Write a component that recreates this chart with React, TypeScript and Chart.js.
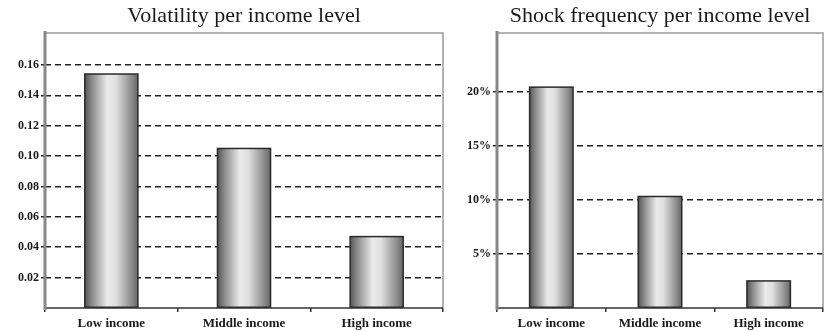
import React, { useEffect, useRef } from "react";
import { Chart, registerables } from "chart.js";

Chart.register(...registerables);

const categories = ["Low income", "Middle income", "High income"];
const volatilityValues = [0.154, 0.105, 0.047];
const shockValues = [0.204, 0.103, 0.025];
const volatilityTicks = [0.02, 0.04, 0.06, 0.08, 0.1, 0.12, 0.14, 0.16];
const shockTicks = [0.05, 0.1, 0.15, 0.2];

const frameAndBars = {
  id: "frameAndBars",
  afterDatasetsDraw(chart: any) {
    const { ctx, chartArea } = chart;
    const meta = chart.getDatasetMeta(0);
    meta.data.forEach((el: any) => {
      const left = el.x - el.width / 2;
      const w = el.width;
      const top = el.y;
      const bottom = el.base;
      const g = ctx.createLinearGradient(left, 0, left + w, 0);
      g.addColorStop(0, "#555555");
      g.addColorStop(0.12, "#858585");
      g.addColorStop(0.42, "#ebebeb");
      g.addColorStop(0.58, "#e0e0e0");
      g.addColorStop(0.88, "#8c8c8c");
      g.addColorStop(1, "#666666");
      ctx.save();
      ctx.fillStyle = g;
      ctx.fillRect(left, top, w, bottom - top);
      ctx.lineWidth = 1.5;
      ctx.strokeStyle = "#2a2a2a";
      ctx.strokeRect(left, top, w, bottom - top);
      ctx.restore();
    });
    ctx.save();
    ctx.strokeStyle = "#9a9a9a";
    ctx.lineWidth = 1.5;
    ctx.beginPath();
    ctx.moveTo(chartArea.left, chartArea.top);
    ctx.lineTo(chartArea.right, chartArea.top);
    ctx.lineTo(chartArea.right, chartArea.bottom);
    ctx.stroke();
    ctx.strokeStyle = "#333";
    ctx.lineWidth = 1.5;
    ctx.beginPath();
    ctx.moveTo(chartArea.left, chartArea.bottom);
    ctx.lineTo(chartArea.right, chartArea.bottom);
    ctx.stroke();
    ctx.strokeStyle = "#888";
    ctx.lineWidth = 3;
    ctx.beginPath();
    ctx.moveTo(chartArea.left, chartArea.top - 2);
    ctx.lineTo(chartArea.left, chartArea.bottom + 2);
    ctx.stroke();
    ctx.restore();
  },
};

function makeConfig(
  title: string,
  values: number[],
  tickVals: number[],
  max: number,
  step: number,
  fmt: (v: number) => string,
  yWidth: number,
  padRight: number
): any {
  const maxTick = tickVals[tickVals.length - 1];
  return {
    type: "bar",
    data: {
      labels: categories,
      datasets: [
        {
          data: values,
          backgroundColor: "rgba(0,0,0,0)",
          borderWidth: 0,
          barPercentage: 0.8,
          categoryPercentage: 0.5,
        },
      ],
    },
    options: {
      responsive: false,
      animation: false,
      layout: { padding: { left: 0, right: padRight, top: 0, bottom: 0 } },
      plugins: {
        legend: { display: false },
        tooltip: { enabled: false },
        title: {
          display: true,
          fullSize: false,
          text: title,
          color: "#1a1a1a",
          font: { family: "Liberation Serif", size: 22, weight: "normal", lineHeight: 1.1 },
          padding: { top: 4, bottom: 4.8 },
        },
      },
      scales: {
        x: {
          grid: {
            display: true,
            offset: true,
            drawOnChartArea: false,
            drawTicks: true,
            tickLength: 4,
            color: "#333",
            lineWidth: 1.5,
          },
          border: { display: false },
          ticks: {
            color: "#1a1a1a",
            font: { family: "Liberation Serif", size: 13, weight: "bold" },
            padding: 4,
            maxRotation: 0,
          },
          afterFit: (s: any) => {
            s.height = 24;
          },
        },
        y: {
          min: 0,
          max: max,
          ticks: {
            stepSize: step,
            color: "#1a1a1a",
            font: { family: "Liberation Serif", size: 12, weight: "bold" },
            padding: 2,
            callback: (v: number) =>
              tickVals.some((t) => Math.abs(t - v) < 1e-9) ? fmt(v) : "",
          },
          grid: {
            drawTicks: true,
            tickLength: 4,
            lineWidth: 1.5,
            tickBorderDash: [6, 4],
            color: (c: any) => {
              const v = c.tick ? c.tick.value : 0;
              return v > 1e-9 && v <= maxTick + 1e-9 ? "#222" : "rgba(0,0,0,0)";
            },
          },
          border: { display: false, dash: [6, 4] },
          afterFit: (s: any) => {
            s.width = yWidth;
          },
        },
      },
    },
    plugins: [frameAndBars],
  };
}

function useChart(ref: any, cfg: () => any) {
  useEffect(() => {
    const c = ref.current;
    if (!c) return;
    const chart = new Chart(c, cfg());
    return () => chart.destroy();
  }, []);
}

export default function App() {
  const leftRef = useRef<HTMLCanvasElement>(null);
  const rightRef = useRef<HTMLCanvasElement>(null);

  useChart(leftRef, () =>
    makeConfig(
      "Volatility per income level",
      volatilityValues,
      volatilityTicks,
      0.181,
      0.02,
      (v) => v.toFixed(2),
      45,
      2
    )
  );
  useChart(rightRef, () =>
    makeConfig(
      "Shock frequency per income level",
      shockValues,
      shockTicks,
      0.254,
      0.05,
      (v) => Math.round(v * 100) + "%",
      52,
      2
    )
  );

  return (
    <div
      style={{
        position: "fixed",
        left: 0,
        top: 0,
        width: 825,
        height: 332,
        background: "#fff",
      }}
    >
      <canvas
        ref={leftRef}
        width={445}
        height={332}
        style={{ position: "absolute", left: 0, top: 0 }}
      />
      <canvas
        ref={rightRef}
        width={380}
        height={332}
        style={{ position: "absolute", left: 445, top: 0 }}
      />
    </div>
  );
}
